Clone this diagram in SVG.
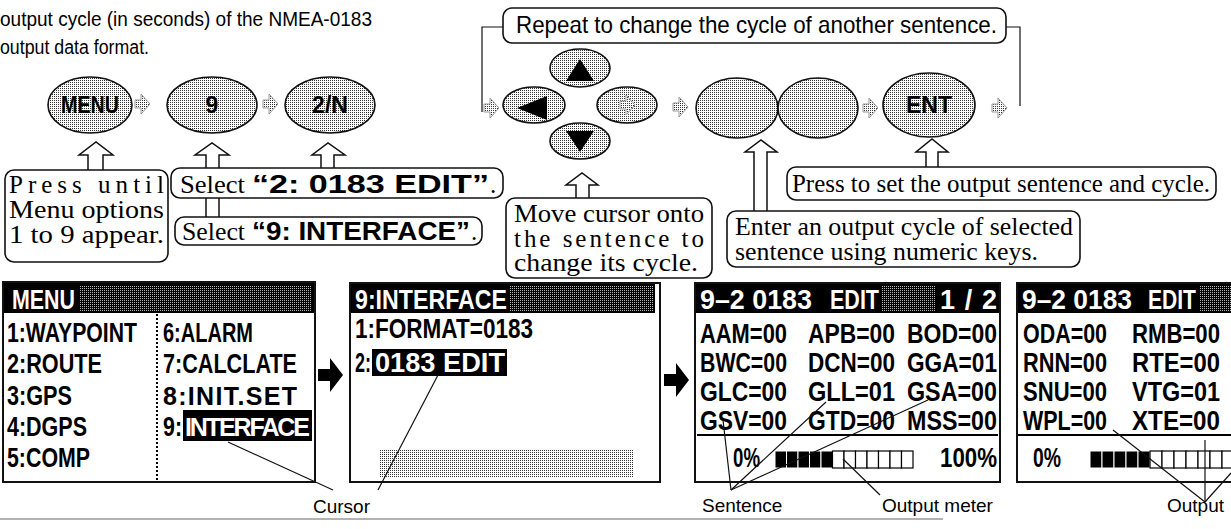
<svg xmlns="http://www.w3.org/2000/svg" xmlns:xlink="http://www.w3.org/1999/xlink" width="1231" height="529" viewBox="0 0 1231 529">
<defs>
<pattern id="dots" width="2" height="2" patternUnits="userSpaceOnUse"><rect width="2" height="2" fill="#fff"/><rect width="1" height="1" fill="#333"/></pattern>
<pattern id="hd" width="2" height="2" patternUnits="userSpaceOnUse"><rect width="2" height="2" fill="#000"/><rect width="1" height="1" fill="#bbb"/></pattern>
<g id="sa"><polygon points="-7,-4 -1,-4 -1,-10 8,0 -1,10 -1,4 -7,4" fill="url(#dots)" stroke="#999" stroke-width="1"/></g>
<style>
.key{fill:url(#dots);stroke:#111;stroke-width:1.6}
.kt{font-family:"Liberation Sans",Arial,sans-serif;font-weight:bold;font-size:23px;text-anchor:middle;fill:#000}
.co{fill:#fff;stroke:#111;stroke-width:1.6}
.ser{font-family:"Liberation Serif","Times New Roman",serif;font-size:25px;fill:#000}
.bld{font-family:"Liberation Sans",Arial,sans-serif;font-weight:bold;font-size:25px;fill:#000}
.nar{font-family:"Liberation Sans",Arial,sans-serif;font-size:24px;fill:#000}
.intro{font-family:"Liberation Sans",Arial,sans-serif;font-size:19.5px;fill:#000}
.scr{fill:#fff;stroke:#111;stroke-width:2}
.lcd{font-family:"Liberation Sans",Arial,sans-serif;font-weight:bold;font-size:27px;fill:#000}
.inv{fill:#fff}
.ptr{fill:#fff;stroke:#111;stroke-width:1.5}
.lead{stroke:#111;stroke-width:1.2;fill:none}
.lbl{font-family:"Liberation Sans",Arial,sans-serif;font-size:19px;fill:#000}
.hl{fill:url(#dots)}
.cell{fill:#fff;stroke:#000;stroke-width:1.2}
.blk{fill:#000;stroke:#fff;stroke-width:1}
</style>
</defs>
<rect width="1231" height="529" fill="#fff"/>

<g id="intro">
<text class="intro" x="0" y="26" textLength="372" lengthAdjust="spacingAndGlyphs">output cycle (in seconds) of the NMEA-0183</text>
<text class="intro" x="0" y="54" textLength="149" lengthAdjust="spacingAndGlyphs">output data format.</text>
</g>

<g id="connectors">
<use href="#sa" x="142" y="104"/>
<use href="#sa" x="270" y="104"/>
<use href="#sa" x="491" y="108"/>
<use href="#sa" x="680" y="107"/>
<use href="#sa" x="870" y="108"/>
<use href="#sa" x="999" y="108"/>
<path class="lead" d="M503,27 H482 V112"/>
<path class="lead" d="M1006,27 H1020 V106"/>
<path class="ptr" d="M88,171 V155 H79 L96,142 L113,155 H103 V171"/>
<path class="ptr" d="M206,218 V155 H195 L212,143 L229,155 H219 V218"/>
<path class="ptr" d="M321,169 V155 H312 L328,143 L345,155 H334 V169"/>
<path class="ptr" d="M576,199 V185 H566 L582,173 L598,185 H589 V199"/>
<path class="ptr" d="M754,212 V152 H745 L761,140 L777,152 H767 V212"/>
<path class="ptr" d="M926,168 V152 H916 L932,139 L948,152 H938 V168"/>
<path d="M318,369 H330 V358 L343,375 L330,392 V381 H318 Z" fill="#000"/>
<path d="M664,374 H676 V363 L689,380 L676,397 V386 H664 Z" fill="#000"/>
</g>

<g id="key-menu"><ellipse class="key" cx="90" cy="105" rx="42" ry="28"/><text class="kt" x="90" y="113" textLength="58" lengthAdjust="spacingAndGlyphs">MENU</text></g>
<g id="key-9"><ellipse class="key" cx="212" cy="105" rx="45" ry="28"/><text class="kt" x="212" y="113">9</text></g>
<g id="key-2n"><ellipse class="key" cx="330" cy="105" rx="45" ry="28"/><text class="kt" x="330" y="113">2/N</text></g>
<g id="key-up"><ellipse class="key" cx="580" cy="68" rx="30" ry="19"/><polygon points="580,59 566,81 594,81" fill="#000"/></g>
<g id="key-left"><ellipse class="key" cx="534" cy="105" rx="31" ry="18"/><polygon points="517,108 547,96 547,120" fill="#000"/></g>
<g id="key-right"><ellipse class="key" cx="627" cy="105" rx="30" ry="18"/><use href="#sa" x="627" y="105"/></g>
<g id="key-down"><ellipse class="key" cx="580" cy="141" rx="30" ry="18"/><polygon points="566,131 594,131 580,152" fill="#000"/></g>
<g id="key-num1"><ellipse class="key" cx="737" cy="108" rx="41" ry="30"/></g>
<g id="key-num2"><ellipse class="key" cx="818" cy="108" rx="40" ry="30"/></g>
<g id="key-ent"><ellipse class="key" cx="929" cy="105" rx="46" ry="32"/><text class="kt" x="929" y="113" textLength="46" lengthAdjust="spacingAndGlyphs">ENT</text></g>

<g id="note-repeat"><rect class="co" x="503" y="8" width="503" height="35" rx="9"/><text class="nar" x="516" y="33" textLength="481" lengthAdjust="spacingAndGlyphs">Repeat to change the cycle of another sentence.</text></g>
<g id="note-press-until"><rect class="co" x="5" y="170" width="163" height="92" rx="9"/>
<text class="ser" x="9" y="193" textLength="155" lengthAdjust="spacing">Press until</text>
<text class="ser" x="9" y="218" textLength="155" lengthAdjust="spacingAndGlyphs">Menu options</text>
<text class="ser" x="9" y="243" textLength="155" lengthAdjust="spacingAndGlyphs">1 to 9 appear.</text></g>
<g id="note-select2"><rect class="co" x="171" y="168" width="332" height="30" rx="9"/>
<text class="ser" x="180" y="193" textLength="65" lengthAdjust="spacingAndGlyphs">Select</text>
<text class="bld" x="252" y="193" textLength="237" lengthAdjust="spacingAndGlyphs">“2: 0183 EDIT”</text>
<text class="ser" x="490" y="193">.</text></g>
<g id="note-select9"><rect class="co" x="175" y="217" width="307" height="28" rx="9"/>
<text class="ser" x="182" y="240" textLength="63" lengthAdjust="spacingAndGlyphs">Select</text>
<text class="bld" x="252" y="240" textLength="218" lengthAdjust="spacingAndGlyphs">“9: INTERFACE”</text>
<text class="ser" x="471" y="240">.</text></g>
<g id="note-move"><rect class="co" x="506" y="198" width="206" height="80" rx="9"/>
<text class="ser" x="514" y="222" textLength="190" lengthAdjust="spacingAndGlyphs">Move cursor onto</text>
<text class="ser" x="514" y="247" textLength="190" lengthAdjust="spacing">the sentence to</text>
<text class="ser" x="514" y="271" textLength="184" lengthAdjust="spacingAndGlyphs">change its cycle.</text></g>
<g id="note-enter"><rect class="co" x="727" y="211" width="353" height="56" rx="9"/>
<text class="ser" x="735" y="235" textLength="338" lengthAdjust="spacingAndGlyphs">Enter an output cycle of selected</text>
<text class="ser" x="735" y="260" textLength="303" lengthAdjust="spacingAndGlyphs">sentence using numeric keys.</text></g>
<g id="note-press-set"><rect class="co" x="787" y="167" width="429" height="33" rx="9"/>
<text class="ser" x="792" y="192" textLength="418" lengthAdjust="spacingAndGlyphs">Press to set the output sentence and cycle.</text></g>

<g id="screen-menu">
<rect class="scr" x="3" y="282" width="312" height="200"/>
<rect x="4" y="283" width="310" height="30" fill="#000"/>
<rect x="80" y="285" width="232" height="26" fill="url(#hd)"/>
<text class="lcd inv" x="12" y="309" textLength="63" lengthAdjust="spacingAndGlyphs">MENU</text>
<line x1="157" y1="314" x2="157" y2="481" stroke="#000" stroke-width="2" stroke-dasharray="2,2"/>
<text class="lcd" x="7" y="342" textLength="130" lengthAdjust="spacingAndGlyphs">1:WAYPOINT</text>
<text class="lcd" x="7" y="373" textLength="95" lengthAdjust="spacingAndGlyphs">2:ROUTE</text>
<text class="lcd" x="7" y="405" textLength="65" lengthAdjust="spacingAndGlyphs">3:GPS</text>
<text class="lcd" x="7" y="436" textLength="80" lengthAdjust="spacingAndGlyphs">4:DGPS</text>
<text class="lcd" x="7" y="467" textLength="83" lengthAdjust="spacingAndGlyphs">5:COMP</text>
<text class="lcd" x="163" y="342" textLength="90" lengthAdjust="spacingAndGlyphs">6:ALARM</text>
<text class="lcd" x="163" y="373" textLength="134" lengthAdjust="spacingAndGlyphs">7:CALCLATE</text>
<text class="lcd" x="163" y="405" textLength="134" lengthAdjust="spacing" style="font-size:25px">8:INIT.SET</text>
<text class="lcd" x="163" y="436" textLength="19" lengthAdjust="spacingAndGlyphs">9:</text>
<rect x="183" y="410" width="129" height="31" fill="#000"/>
<text class="lcd inv" x="185" y="436" textLength="125" lengthAdjust="spacing" style="font-size:25px">INTERFACE</text>
</g>

<g id="screen-interface">
<rect class="scr" x="350" y="283" width="310" height="199"/>
<rect x="351" y="284" width="304" height="29" fill="#000"/>
<rect x="510" y="286" width="143" height="25" fill="url(#hd)"/>
<text class="lcd inv" x="355" y="309" textLength="152" lengthAdjust="spacingAndGlyphs">9:INTERFACE</text>
<text class="lcd" x="355" y="338" textLength="178" lengthAdjust="spacingAndGlyphs">1:FORMAT=0183</text>
<text class="lcd" x="355" y="372" textLength="16" lengthAdjust="spacingAndGlyphs">2:</text>
<rect x="372" y="349" width="135" height="27" fill="#000"/>
<text class="lcd inv" x="375" y="372" textLength="130" lengthAdjust="spacingAndGlyphs">0183 EDIT</text>
<rect class="hl" x="380" y="450" width="253" height="28"/>
</g>

<g id="screen-edit-1">
<rect class="hl" x="697" y="313" width="48" height="127"/>
<rect class="hl" x="805" y="313" width="47" height="127"/>
<rect class="hl" x="905" y="313" width="48" height="127"/>
<rect class="scr" x="695" y="283" width="305" height="199" fill="none"/>
<rect x="696" y="284" width="303" height="29" fill="#000"/>
<rect x="882" y="286" width="54" height="25" fill="url(#hd)"/>
<text class="lcd inv" x="700" y="309" textLength="112" lengthAdjust="spacingAndGlyphs">9–2 0183</text>
<text class="lcd inv" x="830" y="309" textLength="49" lengthAdjust="spacingAndGlyphs">EDIT</text>
<text class="lcd inv" x="940" y="309" textLength="57" lengthAdjust="spacing">1/2</text>
<text class="lcd" x="700" y="343" textLength="87" lengthAdjust="spacingAndGlyphs">AAM=00</text>
<text class="lcd" x="808" y="343" textLength="87" lengthAdjust="spacingAndGlyphs">APB=00</text>
<text class="lcd" x="907" y="343" textLength="90" lengthAdjust="spacingAndGlyphs">BOD=00</text>
<text class="lcd" x="700" y="372" textLength="87" lengthAdjust="spacingAndGlyphs">BWC=00</text>
<text class="lcd" x="808" y="372" textLength="87" lengthAdjust="spacingAndGlyphs">DCN=00</text>
<text class="lcd" x="907" y="372" textLength="90" lengthAdjust="spacingAndGlyphs">GGA=01</text>
<text class="lcd" x="700" y="401" textLength="87" lengthAdjust="spacingAndGlyphs">GLC=00</text>
<text class="lcd" x="808" y="401" textLength="87" lengthAdjust="spacingAndGlyphs">GLL=01</text>
<text class="lcd" x="907" y="401" textLength="90" lengthAdjust="spacingAndGlyphs">GSA=00</text>
<text class="lcd" x="700" y="430" textLength="87" lengthAdjust="spacingAndGlyphs">GSV=00</text>
<text class="lcd" x="808" y="430" textLength="87" lengthAdjust="spacingAndGlyphs">GTD=00</text>
<text class="lcd" x="907" y="430" textLength="90" lengthAdjust="spacingAndGlyphs">MSS=00</text>
<line x1="697" y1="435" x2="998" y2="435" stroke="#000" stroke-width="2"/>
<text class="lcd" x="733" y="467" textLength="27" lengthAdjust="spacingAndGlyphs">0%</text>
<g>
<rect class="blk" x="775" y="451" width="11.5" height="17"/><rect class="blk" x="786.5" y="451" width="11.5" height="17"/><rect class="blk" x="798" y="451" width="11.5" height="17"/><rect class="blk" x="809.5" y="451" width="11.5" height="17"/><rect class="blk" x="821" y="451" width="11.5" height="17"/>
<rect class="cell" x="832.5" y="451" width="11.5" height="17"/><rect class="cell" x="844" y="451" width="11.5" height="17"/><rect class="cell" x="855.5" y="451" width="11.5" height="17"/><rect class="cell" x="867" y="451" width="11.5" height="17"/><rect class="cell" x="878.5" y="451" width="11.5" height="17"/><rect class="cell" x="890" y="451" width="11.5" height="17"/><rect class="cell" x="901.5" y="451" width="11.5" height="17"/>
</g>
<text class="lcd" x="940" y="467" textLength="57" lengthAdjust="spacingAndGlyphs">100%</text>
</g>

<g id="screen-edit-2">
<rect class="hl" x="1075" y="313" width="37" height="132"/>
<rect class="hl" x="1195" y="313" width="36" height="132"/>
<rect class="scr" x="1017" y="283" width="230" height="199" fill="none"/>
<rect x="1018" y="284" width="213" height="29" fill="#000"/>
<rect x="1200" y="286" width="31" height="25" fill="url(#hd)"/>
<text class="lcd inv" x="1022" y="309" textLength="110" lengthAdjust="spacingAndGlyphs">9–2 0183</text>
<text class="lcd inv" x="1148" y="309" textLength="48" lengthAdjust="spacingAndGlyphs">EDIT</text>
<text class="lcd" x="1023" y="343" textLength="84" lengthAdjust="spacingAndGlyphs">ODA=00</text>
<text class="lcd" x="1132" y="343" textLength="88" lengthAdjust="spacingAndGlyphs">RMB=00</text>
<text class="lcd" x="1023" y="372" textLength="84" lengthAdjust="spacingAndGlyphs">RNN=00</text>
<text class="lcd" x="1132" y="372" textLength="88" lengthAdjust="spacingAndGlyphs">RTE=00</text>
<text class="lcd" x="1023" y="401" textLength="84" lengthAdjust="spacingAndGlyphs">SNU=00</text>
<text class="lcd" x="1132" y="401" textLength="88" lengthAdjust="spacingAndGlyphs">VTG=01</text>
<text class="lcd" x="1023" y="430" textLength="84" lengthAdjust="spacingAndGlyphs">WPL=00</text>
<text class="lcd" x="1132" y="430" textLength="88" lengthAdjust="spacingAndGlyphs">XTE=00</text>
<line x1="1018" y1="435" x2="1231" y2="435" stroke="#000" stroke-width="2"/>
<text class="lcd" x="1033" y="467" textLength="28" lengthAdjust="spacingAndGlyphs">0%</text>
<g>
<rect class="blk" x="1090" y="451" width="12" height="17"/><rect class="blk" x="1102" y="451" width="12" height="17"/><rect class="blk" x="1114" y="451" width="12" height="17"/><rect class="blk" x="1126" y="451" width="12" height="17"/><rect class="blk" x="1138" y="451" width="12" height="17"/>
<rect class="cell" x="1150" y="451" width="12" height="17"/><rect class="cell" x="1162" y="451" width="12" height="17"/><rect class="cell" x="1174" y="451" width="12" height="17"/><rect class="cell" x="1186" y="451" width="12" height="17"/><rect class="cell" x="1198" y="451" width="12" height="17"/><rect class="cell" x="1210" y="451" width="12" height="17"/><rect class="cell" x="1222" y="451" width="12" height="17"/>
</g>
</g>

<g id="leaders">
<path class="lead" d="M228,442 L333,490"/>
<path class="lead" d="M378,490 L438,375"/>
<path class="lead" d="M731,490 L723,420"/>
<path class="lead" d="M731,490 L826,402"/>
<path class="lead" d="M731,490 L928,400"/>
<path class="lead" d="M843,459 L880,495"/>
<path class="lead" d="M1205,502 L1113,430"/>
<path class="lead" d="M1205,502 L1205,440"/>
<path class="lead" d="M1205,502 L1231,473"/>
</g>

<g id="label-cursor"><text class="lbl" x="313" y="513">Cursor</text></g>
<g id="label-sentence"><text class="lbl" x="702" y="512">Sentence</text></g>
<g id="label-output-meter"><text class="lbl" x="882" y="512">Output meter</text></g>
<g id="label-output"><text class="lbl" x="1167" y="512">Output</text></g>
<line x1="0" y1="519" x2="943" y2="519" stroke="#999" stroke-width="1.5"/>
</svg>
